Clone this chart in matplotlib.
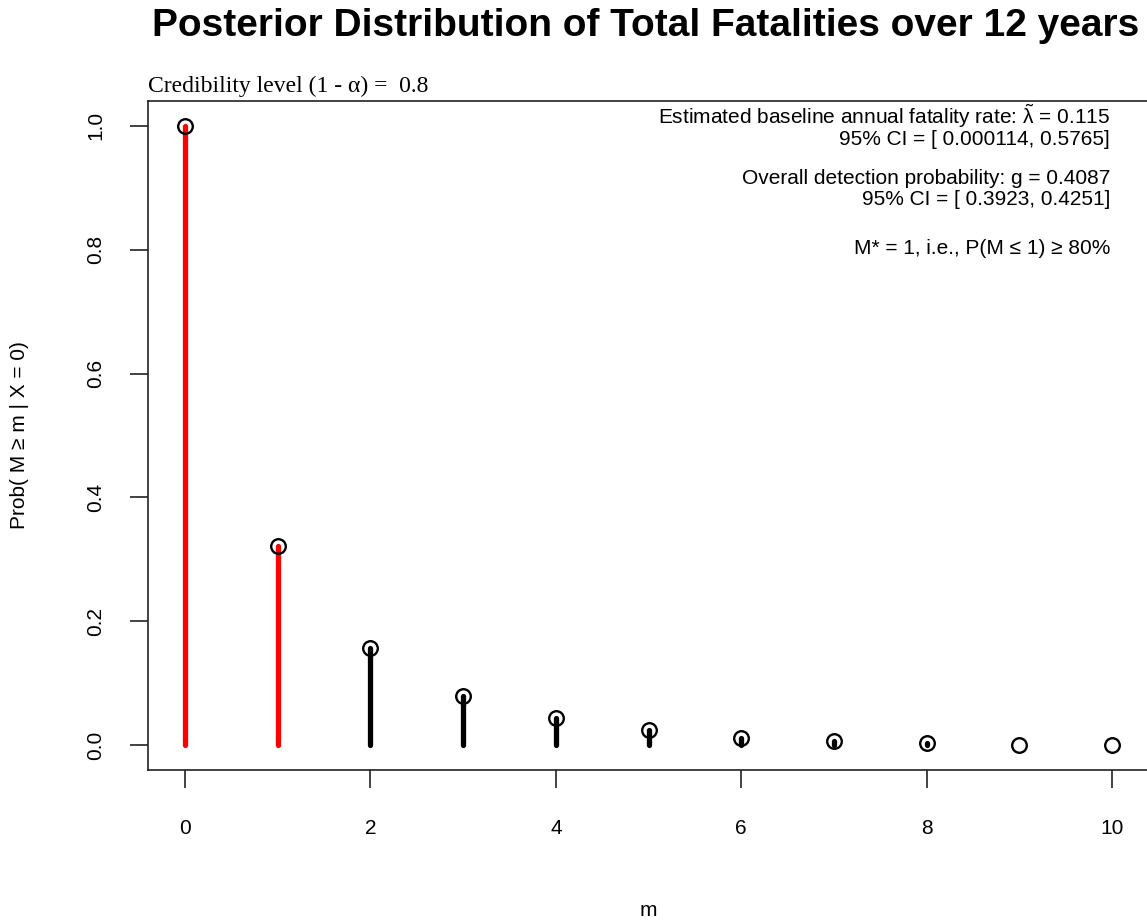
import matplotlib
matplotlib.use("Agg")
import matplotlib.pyplot as plt
import numpy as np

# Data
m_values = [0, 1, 2, 3, 4, 5, 6, 7, 8, 9, 10]
prob_ge_m = [1.0, 0.3215, 0.157, 0.079, 0.044, 0.024, 0.011, 0.0065, 0.003, 0.001, 0.0005]
m_star = 1
x_ticks = [0, 2, 4, 6, 8, 10]
y_ticks = [0.0, 0.2, 0.4, 0.6, 0.8, 1.0]

title = "Posterior Distribution of Total Fatalities over 12 years"
subtitle = "Credibility level (1 - α) =  0.8"
annot_blocks = [
    r"Estimated baseline annual fatality rate: $\tilde{\mathrm{\lambda}}$ = 0.115" + "\n"
    + "95% CI = [ 0.000114, 0.5765]",
    "Overall detection probability: g = 0.4087\n95% CI = [ 0.3923, 0.4251]",
    "M* = 1, i.e., P(M ≤ 1) ≥ 80%",
]
annot_y_px = [126, 189, 249]
annot_spacing = [1.0, 1.17, 1.0]

plt.rcParams["mathtext.fontset"] = "custom"
plt.rcParams["mathtext.rm"] = "Liberation Sans"
plt.rcParams["mathtext.it"] = "Liberation Sans"
plt.rcParams["mathtext.bf"] = "Liberation Sans:bold"

W, H = 1147, 924
fig = plt.figure(figsize=(W / 100, H / 100), dpi=100)
sans = ["Liberation Sans", "DejaVu Sans"]
serif = ["Liberation Serif", "DejaVu Serif"]

ax = fig.add_axes([148 / W, 1 - 770 / H, (1149 - 148) / W, (770 - 101) / H])
ax.set_xlim(-0.4, 10.4)
ax.set_ylim(-0.04, 1.04)

for m, p in zip(m_values, prob_ge_m):
    c = "#ff0000" if m <= m_star else "black"
    ax.plot([m, m], [0, p], color=c, lw=3.8, solid_capstyle="round", zorder=2)
ax.plot(m_values, prob_ge_m, linestyle="none", marker="o", markersize=10.5,
        markerfacecolor="none", markeredgecolor="black", markeredgewidth=1.7, zorder=3)

for s in ax.spines.values():
    s.set_linewidth(1.2)
    s.set_color("#222222")

ax.set_xticks(x_ticks)
ax.set_yticks(y_ticks)
ax.set_xticklabels([str(v) for v in x_ticks], fontfamily=sans, fontsize=15)
ax.set_yticklabels([f"{v:.1f}" for v in y_ticks], fontfamily=sans, fontsize=15,
                   rotation=90, va="center")
ax.tick_params(axis="both", direction="out", length=13, width=1.2, color="#222222")
ax.tick_params(axis="x", pad=22)
ax.tick_params(axis="y", pad=18)

fig.text(646 / W, 1 - 26 / H, title, ha="center", va="center",
         fontfamily=sans, fontsize=28, fontweight="bold")
fig.text(148 / W, 1 - 86 / H, subtitle, ha="left", va="center",
         fontfamily=serif, fontsize=17)
for t, yp, ls in zip(annot_blocks, annot_y_px, annot_spacing):
    fig.text(1110 / W, 1 - yp / H, t, ha="right", va="center",
             multialignment="right", linespacing=ls,
             fontfamily=sans, fontsize=15)

fig.text(20 / W, 1 - 435 / H, "Prob( M ≥ m | X = 0)", rotation=90,
         ha="center", va="center", fontfamily=sans, fontsize=15)
fig.text(648 / W, 1 - 910 / H, "m", ha="center", va="center",
         fontfamily=sans, fontsize=15)

fig.savefig("out.png", dpi=100)
